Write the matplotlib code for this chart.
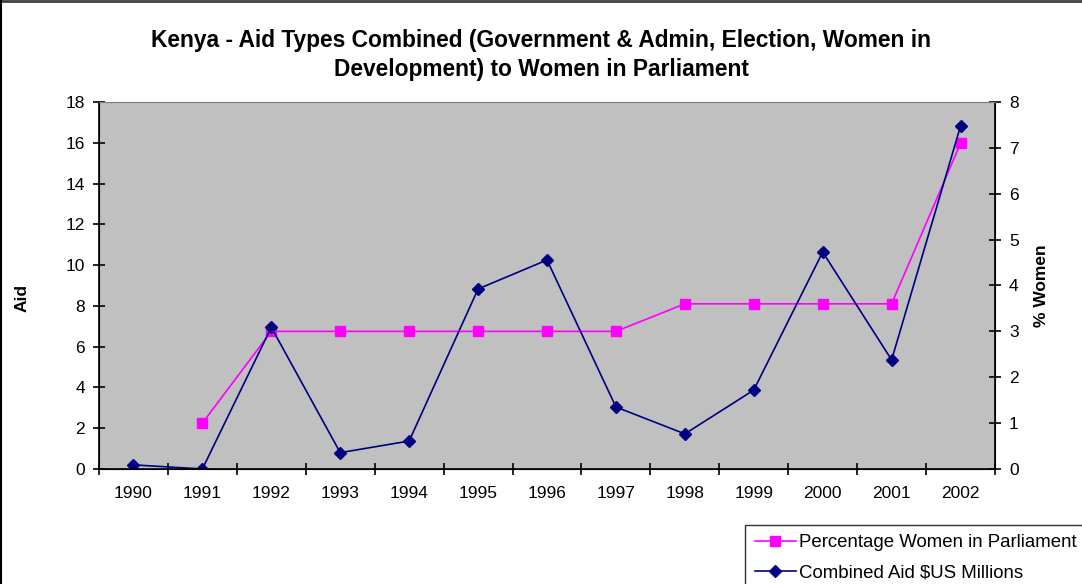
import matplotlib.pyplot as plt
from matplotlib.lines import Line2D

plt.rcParams["font.family"] = ["Liberation Sans", "DejaVu Sans"]

years = ["1990", "1991", "1992", "1993", "1994", "1995", "1996",
         "1997", "1998", "1999", "2000", "2001", "2002"]
# Combined aid, $US millions (left axis)
aid = [0.2, 0.0, 6.95, 0.8, 1.37, 8.83, 10.25, 3.04, 1.72, 3.87, 10.64, 5.35, 16.82]
# Percentage of women in parliament (right axis); no value for 1990
women_years = years[1:]
women_pct = [1.0, 3.0, 3.0, 3.0, 3.0, 3.0, 3.0, 3.6, 3.6, 3.6, 3.6, 7.1]

PINK = "#FF00FF"
NAVY = "#000080"
GREY = "#C0C0C0"
FS = 12.5

fig = plt.figure(figsize=(10.82, 5.84), dpi=100)
ax = fig.add_axes([0.0915, 0.197, 0.8281, 0.6283])
ax2 = ax.twinx()

# aid axes sits on top so its line is drawn over the percentage line
ax.set_zorder(ax2.get_zorder() + 1)
ax.patch.set_visible(False)
ax2.patch.set_visible(True)
ax2.patch.set_facecolor(GREY)

x_aid = list(range(len(years)))
x_women = [years.index(y) for y in women_years]

line_w, = ax2.plot(x_women, women_pct, color=PINK, marker="s", markersize=7,
                   linewidth=1.2)
line_a, = ax.plot(x_aid, aid, color=NAVY, marker="D", markersize=6,
                  linewidth=1.2)

ax.set_xlim(-0.5, len(years) - 0.5)
ax.set_ylim(0, 18)
ax.set_yticks(range(0, 19, 2))
ax2.set_ylim(0, 8)
ax2.set_yticks(range(0, 9))

# tick marks between categories, labels centred on each year
ax.set_xticks([i - 0.5 for i in range(len(years) + 1)])
ax.set_xticklabels([])
ax.set_xticks(x_aid, minor=True)
ax.set_xticklabels(years, minor=True)
ax.tick_params(axis="x", which="minor", length=0, pad=12, labelsize=FS)
ax.tick_params(axis="x", which="major", direction="inout", length=8, width=1.2)
ax.tick_params(axis="y", direction="inout", length=8, width=1.2, labelsize=FS, pad=6)
ax2.tick_params(axis="y", direction="inout", length=8, width=1.2, labelsize=FS, pad=6)

for a in (ax, ax2):
    a.spines["top"].set_color("#808080")
ax.spines["left"].set_linewidth(1.2)
ax.spines["bottom"].set_linewidth(1.2)
ax2.spines["right"].set_linewidth(1.2)

ax.set_ylabel("Aid", fontsize=FS, fontweight="bold")
ax.yaxis.set_label_coords(-0.078, 0.465)
ax2.set_ylabel("% Women", fontsize=FS, fontweight="bold", labelpad=11)

fig.text(0.5, 0.906,
         "Kenya - Aid Types Combined (Government & Admin, Election, Women in\n"
         "Development) to Women in Parliament",
         ha="center", va="center", fontsize=16.4, fontweight="bold",
         linespacing=1.3)

leg = fig.legend([line_w, line_a],
                 ["Percentage Women in Parliament", "Combined Aid $US Millions"],
                 loc="upper left", bbox_to_anchor=(0.689, 0.101),
                 fontsize=13.4, frameon=True, fancybox=False,
                 edgecolor="black", handlelength=2.2, borderpad=0.5,
                 labelspacing=0.72, handletextpad=0.15, borderaxespad=0)
leg.get_frame().set_linewidth(1.0)

# outer chart frame (top and left edges)
fig.add_artist(Line2D([0, 1], [0.998, 0.998], color="#404040", linewidth=2,
                      transform=fig.transFigure))
fig.add_artist(Line2D([0.001, 0.001], [0, 1], color="black", linewidth=1.5,
                      transform=fig.transFigure))

fig.savefig("out.png", dpi=100)
